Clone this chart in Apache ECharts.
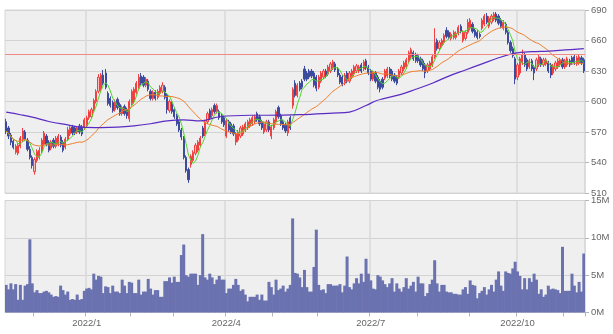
<!DOCTYPE html>
<html>
<head>
<meta charset="utf-8">
<script src="https://cdn.jsdelivr.net/npm/echarts@6/dist/echarts.min.js"></script>
<style>
  html, body { margin: 0; padding: 0; background: #ffffff; }
  #chart { width: 613px; height: 334px; }
</style>
</head>
<body>
<div id="chart"></div>
<script>
// Trading calendar: weekdays from the first to the last session, minus exchange holidays
const firstSession = '2021-11-12';
const lastSession = '2022-11-14';
const holidays = [
  '2021-11-23', '2021-12-31', '2022-01-03', '2022-01-10', '2022-02-11', '2022-02-23',
  '2022-03-21', '2022-04-29', '2022-05-03', '2022-05-04', '2022-05-05', '2022-07-18',
  '2022-08-11', '2022-09-19', '2022-09-23', '2022-10-10', '2022-11-03'
];

// Daily prices (yen)
const opens = [
  580,574,567,561,550,549,556,562,570,562,553,545,531,542,545,551,558,566,560,554,
  562,556,558,565,560,555,563,568,575,574,570,576,575,574,576,584,585,592,600,610,
  612,626,628,608,603,599,592,602,597,588,595,592,583,598,600,609,613,625,624,616,
  620,610,603,609,604,608,610,614,606,591,598,592,586,580,572,565,545,533,538,542,
  549,552,557,574,568,580,591,586,596,590,590,586,584,566,580,578,576,560,562,566,
  568,572,574,576,578,580,588,585,580,570,572,580,566,574,580,594,586,580,577,569,
  584,596,618,606,618,620,632,628,630,630,628,624,614,620,624,630,627,630,633,637,
  632,626,624,618,628,620,624,627,630,630,636,632,640,634,630,622,628,624,620,622,
  623,625,632,630,626,624,624,628,632,634,640,644,648,646,645,642,640,636,630,632,
  636,644,660,652,655,658,670,668,662,663,663,667,674,660,662,668,672,676,670,668,
  666,672,676,684,674,678,681,686,684,680,672,676,668,658,652,642,624,628,638,646,
  641,634,640,634,632,636,642,636,637,638,636,628,632,634,636,641,634,636,640,643,
  644,637,638,643,641
];
const closes = [
  571,566,560,555,556,557,564,571,563,553,545,537,543,551,552,562,569,558,552,560,
  556,564,566,557,552,563,572,574,569,569,574,570,568,582,584,590,592,601,610,624,
  626,618,614,598,596,591,600,594,588,594,588,586,600,610,612,618,624,618,616,622,
  612,603,609,603,610,614,616,604,592,600,590,585,578,572,565,545,532,523,546,550,
  557,560,564,566,580,588,584,592,590,596,584,580,577,581,572,570,568,568,570,574,
  575,578,580,582,584,585,582,578,574,578,580,572,575,582,590,585,578,574,571,580,
  574,612,606,616,612,614,622,622,624,625,616,613,624,628,630,625,634,637,639,631,
  626,619,617,626,620,628,630,634,635,634,630,639,633,628,622,628,620,614,612,614,
  630,632,625,622,620,618,630,634,638,641,648,651,642,640,640,636,632,628,636,638,
  644,658,652,658,660,665,664,663,666,668,667,673,669,668,668,678,680,669,665,663,
  664,680,684,678,682,684,686,680,677,674,678,668,658,650,645,622,636,642,646,636,
  632,640,632,628,641,644,636,641,641,630,626,635,638,640,641,634,640,642,636,638,
  638,643,644,638,630
];
const lows = [
  568,563,557,553,548,547,554,560,561,551,543,534,528,540,543,549,556,556,550,552,
  554,554,556,555,550,553,561,566,567,567,568,568,566,572,574,582,583,590,598,608,
  610,616,612,596,594,589,590,592,586,586,586,583,580,596,598,607,611,616,614,614,
  610,601,601,601,602,606,608,602,588,589,588,583,576,570,562,543,530,520,535,540,
  547,550,555,564,566,578,582,584,588,588,582,578,575,564,570,568,566,557,560,564,
  566,570,572,574,576,578,580,576,572,568,570,570,563,572,578,583,576,572,569,566,
  572,593,604,604,610,612,620,620,622,623,614,610,612,618,622,623,625,628,631,629,
  624,617,615,616,618,618,622,625,628,628,628,630,631,626,620,620,618,612,609,612,
  621,623,623,620,618,616,622,626,630,632,638,642,640,638,638,634,630,623,628,630,
  634,642,650,650,653,656,662,661,660,661,661,665,667,658,660,666,670,667,663,661,
  662,670,674,676,672,676,679,678,675,672,670,666,656,648,643,617,621,626,636,634,
  630,632,630,621,630,634,634,634,635,628,623,626,630,632,634,632,632,634,634,636,
  636,635,636,636,628
];
const highs = [
  583,576,569,563,558,559,566,574,572,564,556,547,545,553,555,564,571,568,562,562,
  564,566,568,567,562,565,575,576,577,576,576,578,577,584,586,592,594,603,612,627,
  628,631,632,610,605,601,602,604,599,596,597,594,602,612,614,620,627,628,626,624,
  622,612,611,611,612,616,619,616,608,602,600,594,588,582,574,566,547,535,548,552,
  559,562,566,576,582,590,593,594,598,598,592,588,586,583,582,580,578,570,572,576,
  577,580,582,584,586,587,590,587,582,580,582,582,577,584,592,596,588,582,579,582,
  586,614,621,618,620,622,635,630,632,632,630,626,626,630,632,632,636,639,641,639,
  634,628,626,628,630,630,632,636,637,636,638,641,642,636,632,630,630,626,622,624,
  632,634,634,632,628,626,632,636,640,643,650,653,650,648,647,644,642,638,638,640,
  646,672,662,660,662,667,673,670,668,670,669,675,676,670,670,681,682,678,672,670,
  668,682,686,687,684,686,688,688,686,682,680,678,670,660,654,644,638,644,651,648,
  643,642,642,636,643,646,644,643,643,640,638,637,640,642,643,643,642,644,642,645,
  646,645,646,645,643
];

// Daily volume, millions of shares
const volumes = [
  3.7,3.1,3.9,3.1,3.8,1.7,3.7,1.7,3.6,3.8,9.8,3.9,2.7,3.0,2.6,2.6,2.8,2.9,2.7,2.4,
  2.1,2.2,2.1,3.6,3.0,2.4,2.8,1.7,1.8,1.7,2.4,1.7,1.8,2.9,3.2,3.3,3.1,5.2,4.4,4.9,
  4.8,2.6,3.5,3.4,2.6,3.6,2.8,2.8,2.6,4.4,3.6,2.6,4.1,4.0,2.6,2.6,4.4,2.4,2.8,2.8,
  4.5,3.2,2.4,3.0,3.0,2.1,2.1,4.2,4.2,4.7,4.0,4.8,4.1,4.1,7.7,9.1,5.0,4.8,5.2,5.2,
  5.2,3.7,5.0,10.5,4.7,4.4,5.2,4.7,3.8,4.4,4.9,4.4,4.4,2.6,3.2,3.2,3.7,4.5,3.7,2.9,
  3.1,2.4,1.5,2.1,2.1,2.1,2.4,1.7,2.4,1.6,1.6,4.1,3.4,2.4,4.4,3.0,3.2,3.6,2.8,3.2,
  3.7,12.6,5.3,5.2,4.7,3.4,5.7,3.4,2.8,2.8,6.1,11.1,3.7,3.0,3.1,2.6,3.8,3.8,3.6,3.6,
  3.6,3.8,2.7,3.6,7.5,3.4,3.1,3.9,4.6,3.9,5.2,4.1,7.2,5.2,4.3,3.2,3.1,5.0,4.8,4.3,
  3.8,3.4,3.9,4.6,2.8,3.9,3.2,2.8,3.4,4.6,3.2,3.6,4.1,2.8,4.8,3.9,3.9,2.2,2.6,3.8,
  4.4,7.0,3.9,2.8,3.7,3.7,2.8,2.7,2.7,2.5,2.5,2.4,2.4,3.1,3.4,2.5,4.3,3.7,3.6,1.9,
  2.6,2.9,3.4,2.4,3.1,3.7,2.8,4.4,5.5,3.6,2.9,5.5,5.3,5.2,5.9,6.8,5.5,4.9,3.1,4.6,
  3.1,4.6,4.1,5.2,4.4,2.5,3.1,2.1,2.4,3.6,3.1,3.2,3.1,3.0,2.6,8.8,2.9,2.9,2.9,5.2,
  3.6,2.7,4.1,2.8,7.9
];

// 75-day average (its window reaches back before the first bar): [bar index, value]
const ma75Points = [
  [0,589.5],[6,587],[11,584.6],[18,580.3],[26,577],[32,574.8],[40,574.4],[47,574.8],
  [54,576.1],[61,578.1],[68,581],[75,582],[82,581],[90,585],[103,586.5],[110,586.5],
  [124,587],[138,588.6],[145,589.6],[152,596],[156,600.5],[159,602.6],[166,606.5],
  [173,612],[180,618],[187,625],[194,631],[201,637],[208,643],[215,647.5],[222,649],
  [229,649.6],[236,650.7],[244,652]
];

// Horizontal reference level on the price panel
const refLevel = 646;

// Axis ranges
const priceTicks = { min: 510, max: 690, step: 30 };
const volumeTicks = { min: 0, max: 15, step: 5 };
const labelMonths = [1, 4, 7, 10];

function tradingDays(from, to, closed) {
  const out = [];
  const skip = new Set(closed);
  const d = new Date(from + 'T00:00:00Z');
  const end = new Date(to + 'T00:00:00Z');
  while (d <= end) {
    const wd = d.getUTCDay();
    const iso = d.toISOString().slice(0, 10);
    if (wd !== 0 && wd !== 6 && !skip.has(iso)) out.push(iso);
    d.setUTCDate(d.getUTCDate() + 1);
  }
  return out;
}

const dates = tradingDays(firstSession, lastSession, holidays);
const monthStart = dates.map((s, i) => i > 0 && s.slice(0, 7) !== dates[i - 1].slice(0, 7));
const quarterStart = dates.map((s, i) => monthStart[i] && labelMonths.includes(+s.slice(5, 7)));

function movingAverage(values, n) {
  return values.map((_, i) => {
    const from = Math.max(0, i - n + 1);
    const win = values.slice(from, i + 1);
    return +(win.reduce((a, b) => a + b, 0) / win.length).toFixed(2);
  });
}

const ohlc = dates.map((_, i) => [opens[i], closes[i], lows[i], highs[i]]);
const ma5 = movingAverage(closes, 5);
const ma25 = movingAverage(closes, 25);
const ma75 = dates.map(() => null);
ma75Points.forEach(([i, v]) => { ma75[i] = v; });

const fontFamily = '"Liberation Sans", Arial, sans-serif';
const gridLine = { color: '#d3d3d3', width: 1 };
const volumeColor = '#6b72b0';

const chart = echarts.init(document.getElementById('chart'), null, { renderer: 'canvas' });

chart.setOption({
  animation: false,
  backgroundColor: '#ffffff',
  grid: [
    { left: 5, top: 10, width: 580, height: 183, show: true, backgroundColor: '#efefef', borderColor: '#d6d6d6', borderWidth: 1 },
    { left: 5, top: 200.5, width: 580, height: 112, show: true, backgroundColor: '#efefef', borderColor: '#d6d6d6', borderWidth: 1 }
  ],
  xAxis: [
    {
      type: 'category', gridIndex: 0, data: dates, boundaryGap: true,
      axisLine: { show: false }, axisTick: { show: false }, axisLabel: { show: false },
      splitLine: { show: true, interval: (i) => quarterStart[i], lineStyle: { color: '#d8d8d8', width: 1.5 } }
    },
    {
      type: 'category', gridIndex: 1, data: dates, boundaryGap: true,
      axisLine: { show: false },
      axisTick: { show: true, interval: (i) => monthStart[i], length: 4, lineStyle: { color: '#b5b5b5' } },
      axisLabel: {
        show: true, interval: (i) => quarterStart[i], margin: 6,
        fontFamily, fontSize: 9.5, color: '#666',
        formatter: (s) => s.slice(0, 4) + '/' + (+s.slice(5, 7))
      },
      splitLine: { show: true, interval: (i) => quarterStart[i], lineStyle: { color: '#d8d8d8', width: 1.5 } }
    }
  ],
  yAxis: [
    {
      type: 'value', gridIndex: 0, position: 'right', scale: true,
      min: priceTicks.min, max: priceTicks.max, interval: priceTicks.step,
      axisLine: { show: false },
      axisTick: { show: true, length: 4, lineStyle: { color: '#b5b5b5' } },
      axisLabel: { margin: 6, fontFamily, fontSize: 9.5, color: '#666' },
      splitLine: { show: true, lineStyle: gridLine }
    },
    {
      type: 'value', gridIndex: 1, position: 'right',
      min: volumeTicks.min, max: volumeTicks.max, interval: volumeTicks.step,
      axisLine: { show: false },
      axisTick: { show: true, length: 4, lineStyle: { color: '#b5b5b5' } },
      axisLabel: { margin: 6, fontFamily, fontSize: 9.5, color: '#666', formatter: (v) => v + 'M' },
      splitLine: { show: true, lineStyle: gridLine }
    }
  ],
  series: [
    {
      name: 'price', type: 'candlestick', xAxisIndex: 0, yAxisIndex: 0,
      data: ohlc, barWidth: '72%',
      itemStyle: {
        color: '#ffbcbc', borderColor: '#f04040',
        color0: '#3d4b9f', borderColor0: '#3d4b9f', borderWidth: 1
      },
      markLine: {
        silent: true, symbol: ['none', 'none'], label: { show: false },
        lineStyle: { color: '#f08a84', width: 1, type: 'solid' },
        data: [{ yAxis: refLevel }]
      },
      z: 3
    },
    {
      name: 'MA5', type: 'line', xAxisIndex: 0, yAxisIndex: 0, data: ma5,
      showSymbol: false, symbol: 'none', lineStyle: { color: '#4fd82a', width: 1 }, z: 4
    },
    {
      name: 'MA25', type: 'line', xAxisIndex: 0, yAxisIndex: 0, data: ma25,
      showSymbol: false, symbol: 'none', lineStyle: { color: '#f07d2c', width: 1 }, z: 4
    },
    {
      name: 'MA75', type: 'line', xAxisIndex: 0, yAxisIndex: 0, data: ma75,
      connectNulls: true, smooth: 0.4,
      showSymbol: false, symbol: 'none', lineStyle: { color: '#5a2cc4', width: 1.2 }, z: 4
    },
    {
      // bars slightly wider than a day's slot so neighbouring days join into one mass
      name: 'volume', type: 'bar', xAxisIndex: 1, yAxisIndex: 1, data: volumes,
      barWidth: 3,
      itemStyle: { color: volumeColor }
    }
  ]
});
</script>
</body>
</html>
